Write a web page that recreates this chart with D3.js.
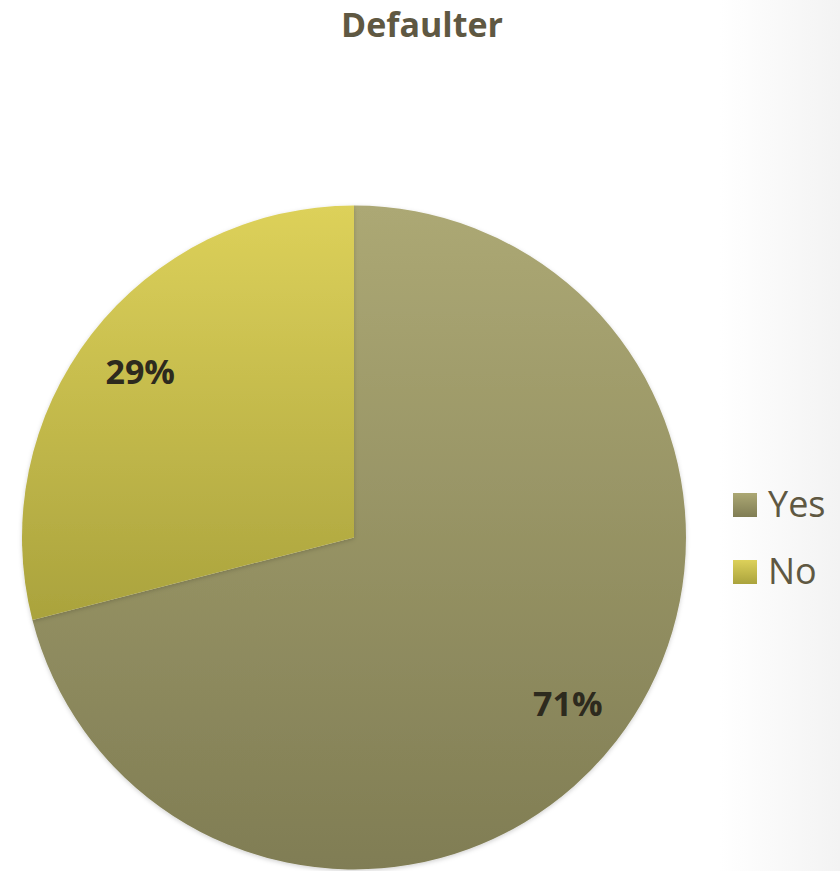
<!DOCTYPE html>
<html>
<head>
<meta charset="utf-8">
<script src="https://cdn.jsdelivr.net/npm/d3@7"></script>
<style>
  html, body { margin: 0; padding: 0; background: #ffffff; }
  svg { display: block; }
</style>
</head>
<body>
<script>
// Share of defaulters
const categories = ["Yes", "No"];
const values = [71, 29];
const labels = ["71%", "29%"];
const title = "Defaulter";

const width = 840, height = 871;
const cx = 354, cy = 537.5, radius = 332;

const fills = {
  Yes: ["#aca874", "#807d54"],
  No:  ["#ddd15a", "#aaa33d"]
};

const svg = d3.select("body").append("svg")
  .attr("width", width)
  .attr("height", height);

const defs = svg.append("defs");

// soft grey band along the right edge
const bg = defs.append("linearGradient").attr("id", "edge")
  .attr("x1", 0).attr("x2", 1).attr("y1", 0).attr("y2", 0);
bg.append("stop").attr("offset", 0).attr("stop-color", "#ffffff");
bg.append("stop").attr("offset", 1).attr("stop-color", "#f3f3f3");
svg.append("rect").attr("x", 720).attr("y", 0)
  .attr("width", 120).attr("height", height)
  .attr("fill", "url(#edge)");

categories.forEach(c => {
  const g = defs.append("linearGradient").attr("id", "grad-" + c)
    .attr("x1", 0).attr("x2", 0).attr("y1", 0).attr("y2", 1);
  g.append("stop").attr("offset", 0).attr("stop-color", fills[c][0]);
  g.append("stop").attr("offset", 1).attr("stop-color", fills[c][1]);
});

const shadow = defs.append("filter").attr("id", "soft")
  .attr("x", "-10%").attr("y", "-10%").attr("width", "120%").attr("height", "120%");
shadow.append("feDropShadow").attr("dx", 0).attr("dy", 1.5)
  .attr("stdDeviation", 2).attr("flood-color", "#000").attr("flood-opacity", 0.18);

const pie = d3.pie().sort(null).value(d => d.value);
const data = categories.map((c, i) => ({ cat: c, value: values[i], label: labels[i] }));
const arcs = pie(data);

const arc = d3.arc().innerRadius(0).outerRadius(radius);
const labelArc = d3.arc().innerRadius(radius * 0.815).outerRadius(radius * 0.815);

const g = svg.append("g").attr("transform", `translate(${cx},${cy})`);

g.selectAll("path.slice")
  .data(arcs)
  .join("path")
  .attr("class", "slice")
  .attr("d", arc)
  .attr("fill", d => `url(#grad-${d.data.cat})`)
  .attr("filter", "url(#soft)");

g.selectAll("text.lbl")
  .data(arcs)
  .join("text")
  .attr("class", "lbl")
  .attr("transform", d => `translate(${labelArc.centroid(d)})`)
  .attr("text-anchor", "middle")
  .attr("dy", "0.36em")
  .attr("font-family", "'Open Sans', sans-serif")
  .attr("font-weight", 700)
  .attr("font-size", 34)
  .attr("fill", "#2d2a1e")
  .text(d => d.data.label);

svg.append("text")
  .attr("x", 422)
  .attr("y", 37)
  .attr("text-anchor", "middle")
  .attr("font-family", "'Open Sans', sans-serif")
  .attr("font-weight", 700)
  .attr("font-size", 34)
  .attr("fill", "#5f5842")
  .text(title);

// legend
const legend = svg.append("g");
const legendRows = legend.selectAll("g")
  .data(categories)
  .join("g")
  .attr("transform", (d, i) => `translate(733,${493 + i * 67})`);

legendRows.append("rect")
  .attr("width", 24).attr("height", 24)
  .attr("fill", d => `url(#grad-${d})`);

legendRows.append("text")
  .attr("x", 35)
  .attr("y", 24)
  .attr("font-family", "'Open Sans', sans-serif")
  .attr("font-size", 36)
  .attr("fill", "#5f5842")
  .text(d => d);
</script>
</body>
</html>
